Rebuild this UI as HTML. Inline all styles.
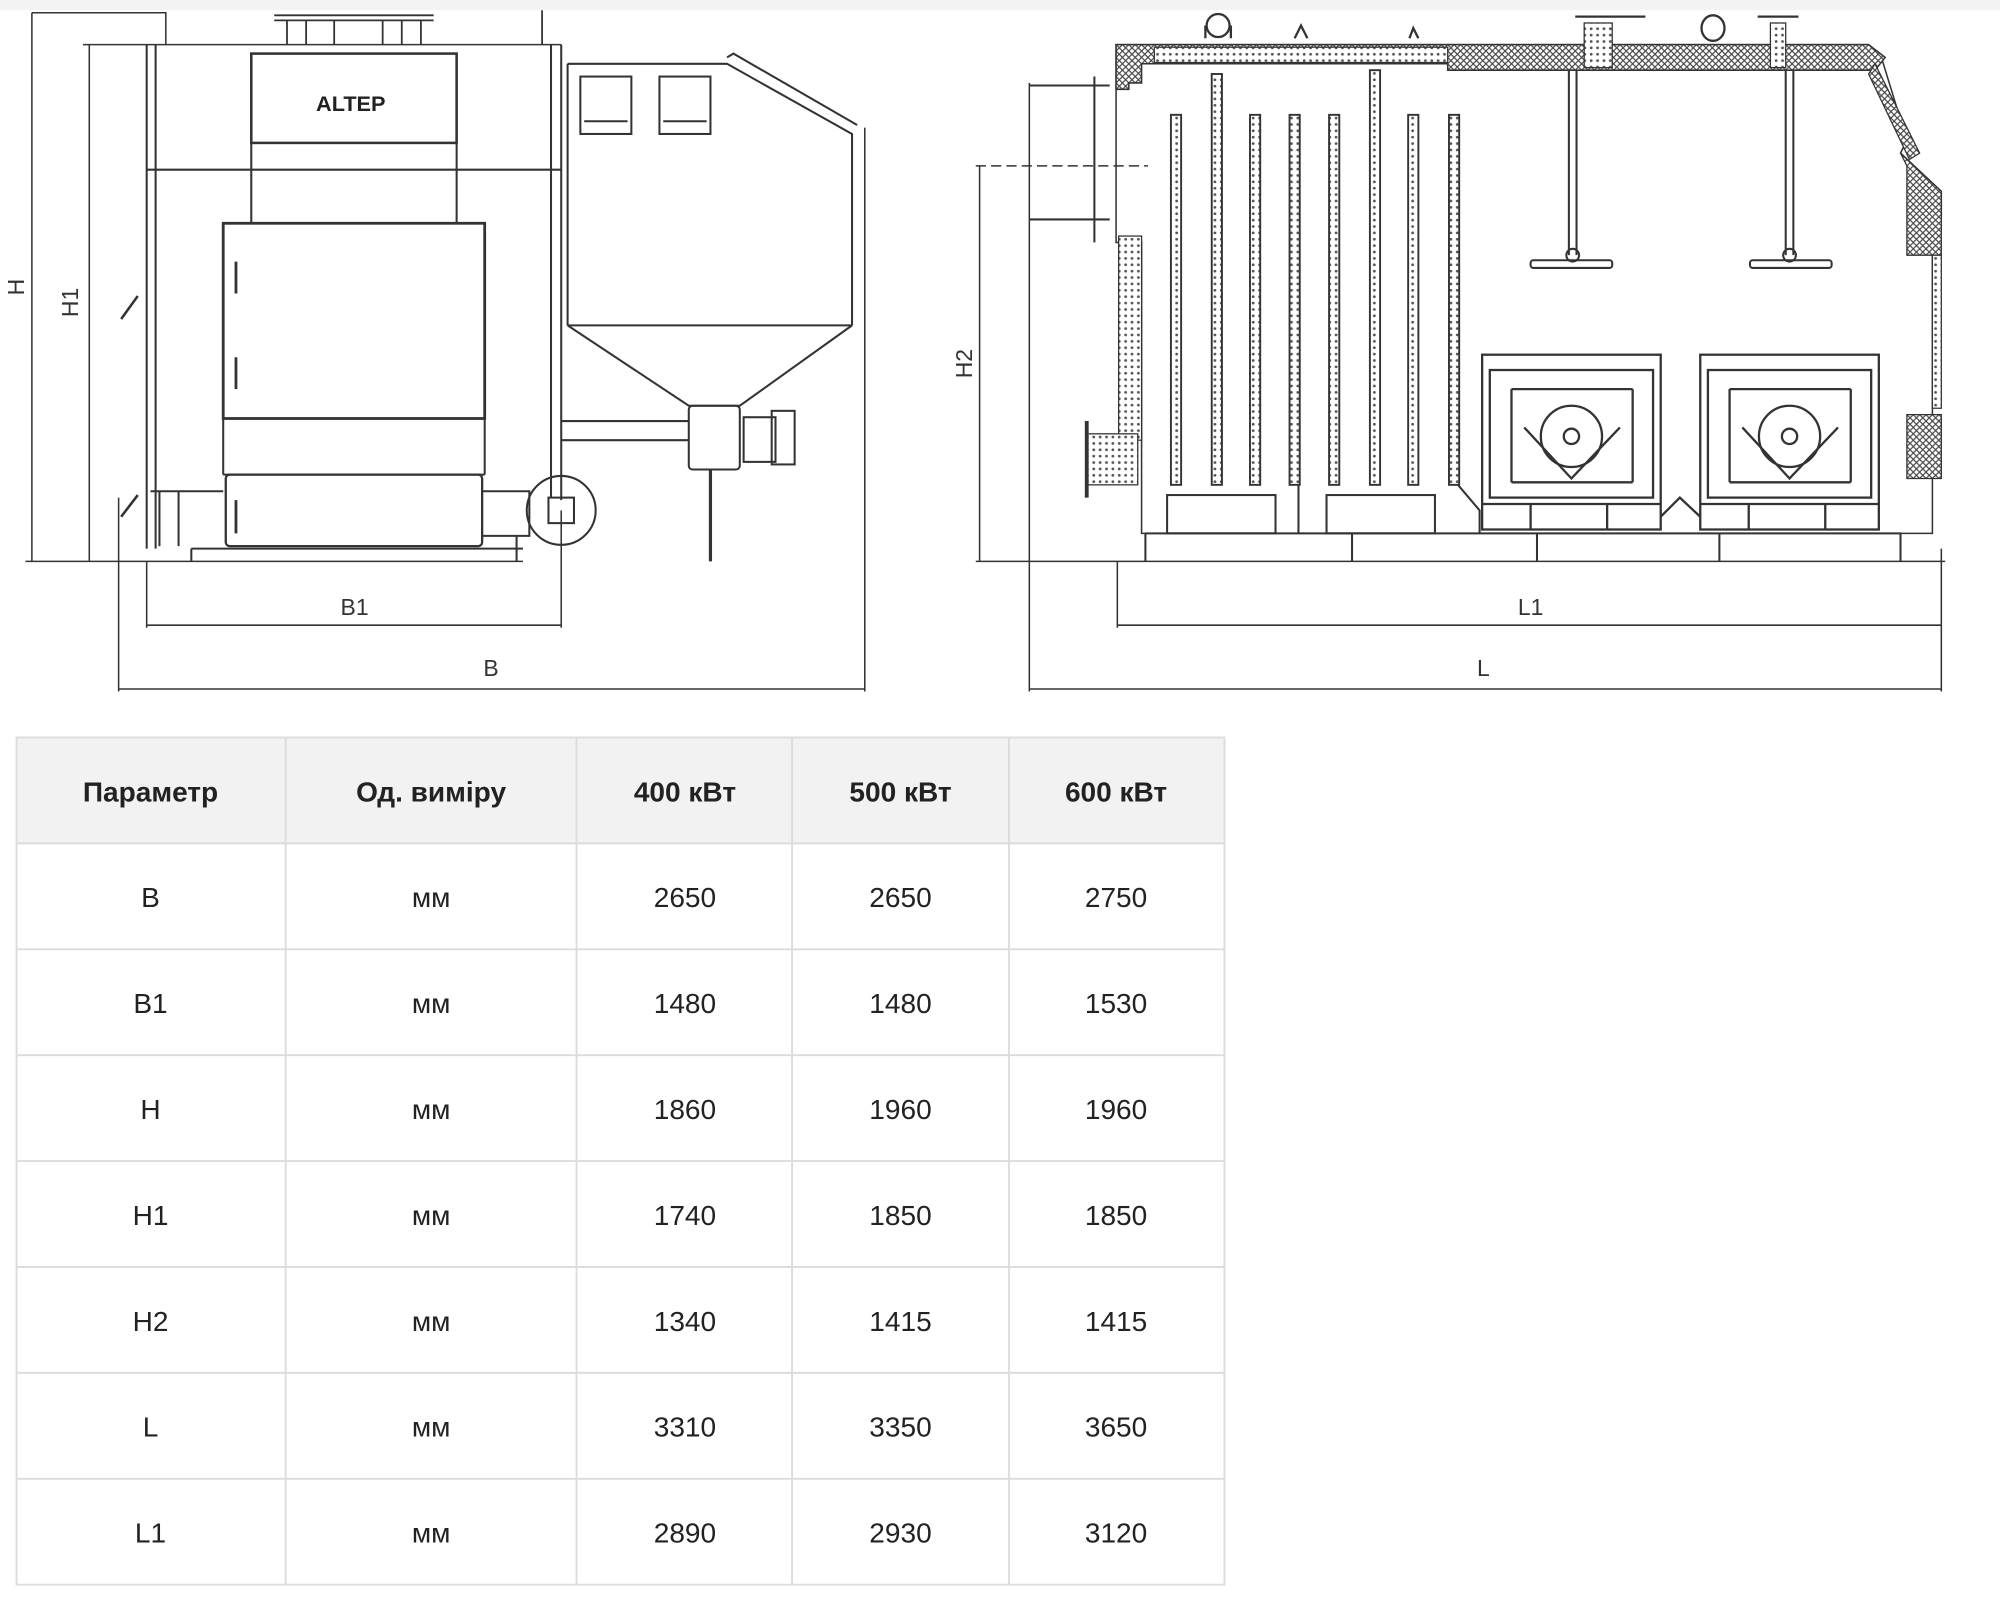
<!DOCTYPE html>
<html><head><meta charset="utf-8"><style>
html,body{margin:0;padding:0;background:#fff;}
svg{display:block;}
</style></head><body>
<svg width="2000" height="1600" viewBox="0 0 1568 1254" preserveAspectRatio="none" xmlns="http://www.w3.org/2000/svg">
<defs>
<pattern id="dots" width="5" height="5" patternUnits="userSpaceOnUse"><rect width="5" height="5" fill="#fff"/><circle cx="2.5" cy="2.5" r="1.1" fill="#555"/></pattern>
<pattern id="hatch" width="5" height="5" patternUnits="userSpaceOnUse"><rect width="5" height="5" fill="#fff"/><path d="M0 5L5 0M0 0L5 5" stroke="#444" stroke-width="0.9"/></pattern>
</defs>
<rect x="0" y="0" width="1568" height="8" fill="#f3f3f3"/>
<g fill="none" stroke="#333" stroke-width="1.6">
<path d="M25 10H130V35M25 10V440M65 35H440M70 35V440M20 440H410" stroke-width="1.2"/>
<path d="M115 440V492M440 400V492M115 490H440M93 390V542M678 100V542M93 540H678" stroke-width="1.2"/>
<path d="M115 35V430M122 35V430M432 35V390M440 35V392"/>
<path d="M115 133H440"/>
<rect x="197" y="42" width="161" height="70" stroke-width="2"/>
<path d="M197 112V175M358 112V175"/>
<rect x="175" y="175" width="205" height="153" stroke-width="2.2"/>
<path d="M175 328V372M380 328V372M175 372H380"/>
<rect x="177" y="372" width="201" height="56" rx="3" stroke-width="1.8"/>
<path d="M118 385H175M378 385H415V420H378M125 385V428M140 385V428M150 430V440M405 420V440M150 430H410"/>
<path d="M185 205V230M185 280V305M185 392V418" stroke-width="2.2"/>
<path d="M95 250L108 232M95 405L108 388" stroke-width="2"/>
<path d="M215 12H340M215 16H340M225 16V35M240 16V35M262 16V35M300 16V35M315 16V35M330 16V35M425 8V35" stroke-width="1.4"/>
<circle cx="440" cy="400" r="27"/>
<rect x="430" y="390" width="20" height="20"/>
<path d="M445 50H570L668 105V255M445 50V255M445 255H668M445 255L540 318H580L668 255M570 45L575 42L672 98"/>
<rect x="455" y="60" width="40" height="45"/><rect x="517" y="60" width="40" height="45"/>
<path d="M458 95H492M520 95H554"/>
<path d="M440 330H540M440 345H540"/>
<rect x="540" y="318" width="40" height="50" rx="3"/>
<rect x="583" y="327" width="25" height="35"/>
<rect x="605" y="322" width="18" height="42"/>
<path d="M557 368V440" stroke-width="2.5"/>
</g>
<text x="275" y="87" font-family="Liberation Sans, sans-serif" font-weight="bold" font-size="17" text-anchor="middle" fill="#222">ALTEP</text>
<g font-family="Liberation Sans, sans-serif" font-size="18" fill="#333" text-anchor="middle">
<text x="278" y="482">B1</text>
<text x="385" y="530">B</text>
<text transform="translate(19,225) rotate(-90)">H</text>
<text transform="translate(61,237) rotate(-90)">H1</text>
<text transform="translate(762,285) rotate(-90)">H2</text>
<text x="1200" y="482">L1</text>
<text x="1163" y="530">L</text>
</g>
<g fill="none" stroke="#333" stroke-width="1.6">
<path d="M768 130V440M765 440H1525M876 440V492M876 490H1522M1522 430V542M807 65V542M807 540H1522" stroke-width="1.2"/>
<path d="M765 130H900" stroke-dasharray="8 4" stroke-width="1.2"/>
<path d="M807 67H870M807 172H870M858 60V190"/>
<path d="M875 35H1465L1475 45L1495 110L1490 120L1522 150V170H1515V418H895V190H875Z" stroke-width="1.2"/>
</g>
<path d="M875 35H1465L1478 45L1470 55H1135V50H895V65H885V70H875Z" fill="url(#hatch)" stroke="#333" stroke-width="1.2"/>
<path d="M1470 50L1505 120L1497 125L1465 58Z" fill="url(#hatch)" stroke="#333"/>
<path d="M1490 120L1522 150V200H1495V130Z" fill="url(#hatch)" stroke="#333"/>
<path d="M1495 325H1522V375H1495Z" fill="url(#hatch)" stroke="#333"/>
<path d="M1515 200H1522V320H1515Z" fill="url(#dots)" stroke="#333"/>
<rect x="877" y="185" width="18" height="160" fill="url(#dots)" stroke="#333"/>
<rect x="852" y="340" width="40" height="40" fill="url(#dots)" stroke="#333"/>
<path d="M852 330V390" stroke="#333" stroke-width="3"/>
<rect x="905" y="37" width="230" height="12" fill="url(#dots)" stroke="#333"/>
<rect x="1242" y="18" width="22" height="35" fill="url(#dots)" stroke="#333"/>
<rect x="1388" y="18" width="12" height="35" fill="url(#dots)" stroke="#333"/>
<g fill="none" stroke="#333" stroke-width="1.8">
<path d="M1235 13H1290M1378 13H1410"/>
<circle cx="955" cy="20" r="9"/><path d="M945 30V20M965 30V20"/>
<ellipse cx="1343" cy="22" rx="9" ry="10"/>
<path d="M1015 30L1020 20L1025 30M1105 30L1108 22L1112 30"/>
</g>
<g fill="url(#dots)" stroke="#333" stroke-width="1.5">
<rect x="918" y="90" width="8" height="290"/>
<rect x="950" y="58" width="8" height="322"/>
<rect x="980" y="90" width="8" height="290"/>
<rect x="1011" y="90" width="8" height="290"/>
<rect x="1042" y="90" width="8" height="290"/>
<rect x="1074" y="55" width="8" height="325"/>
<rect x="1104" y="90" width="8" height="290"/>
<rect x="1136" y="90" width="8" height="290"/>
</g>
<g fill="none" stroke="#333" stroke-width="1.6">
<rect x="915" y="388" width="85" height="30"/>
<rect x="1040" y="388" width="85" height="30"/>
<path d="M1018 380V418M1143 380L1160 400V418"/>
<path d="M1230 55V200M1236 55V200M1400 55V200M1406 55V200"/>
<rect x="1200" y="204" width="64" height="6" rx="2"/>
<rect x="1372" y="204" width="64" height="6" rx="2"/>
<circle cx="1233" cy="200" r="5"/><circle cx="1403" cy="200" r="5"/>
<path d="M898 418H1490V440M898 418V440M1060 418V440M1205 418V440M1348 418V440"/>
</g>
<g fill="none" stroke="#333" stroke-width="1.8">
<rect x="1162" y="278" width="140" height="137"/>
<rect x="1168" y="290" width="128" height="100"/>
<path d="M1185 305H1280M1185 305V378M1280 305V378M1185 378H1280M1195 335L1232 375L1270 335M1162 395H1302M1200 395V415M1260 395V415"/>
<circle cx="1232" cy="342" r="24"/><circle cx="1232" cy="342" r="6"/>
<rect x="1333" y="278" width="140" height="137"/>
<rect x="1339" y="290" width="128" height="100"/>
<path d="M1356 305H1451M1356 305V378M1451 305V378M1356 378H1451M1366 335L1403 375L1441 335M1333 395H1473M1371 395V415M1431 395V415"/>
<circle cx="1403" cy="342" r="24"/><circle cx="1403" cy="342" r="6"/>
<path d="M1302 405L1317 390L1333 405"/>
</g>
<rect x="13" y="578" width="947" height="83" fill="#f2f2f2"/>
<g stroke="#dcdcdc" stroke-width="1.5" fill="none">
<rect x="13" y="578" width="947" height="664"/>
<path d="M13 661H960M13 744H960M13 827H960M13 910H960M13 993H960M13 1076H960M13 1159H960"/>
<path d="M224 578V1242M452 578V1242M621 578V1242M791 578V1242"/>
</g>
<g font-family="Liberation Sans, sans-serif" font-size="22" fill="#222" text-anchor="middle">
<g font-weight="bold"><text x="118" y="628">Параметр</text><text x="338" y="628">Од. виміру</text><text x="537" y="628">400 кВт</text><text x="706" y="628">500 кВт</text><text x="875" y="628">600 кВт</text></g>
<text x="118" y="711">B</text><text x="338" y="711">мм</text><text x="537" y="711">2650</text><text x="706" y="711">2650</text><text x="875" y="711">2750</text>
<text x="118" y="794">B1</text><text x="338" y="794">мм</text><text x="537" y="794">1480</text><text x="706" y="794">1480</text><text x="875" y="794">1530</text>
<text x="118" y="877">H</text><text x="338" y="877">мм</text><text x="537" y="877">1860</text><text x="706" y="877">1960</text><text x="875" y="877">1960</text>
<text x="118" y="960">H1</text><text x="338" y="960">мм</text><text x="537" y="960">1740</text><text x="706" y="960">1850</text><text x="875" y="960">1850</text>
<text x="118" y="1043">H2</text><text x="338" y="1043">мм</text><text x="537" y="1043">1340</text><text x="706" y="1043">1415</text><text x="875" y="1043">1415</text>
<text x="118" y="1126">L</text><text x="338" y="1126">мм</text><text x="537" y="1126">3310</text><text x="706" y="1126">3350</text><text x="875" y="1126">3650</text>
<text x="118" y="1209">L1</text><text x="338" y="1209">мм</text><text x="537" y="1209">2890</text><text x="706" y="1209">2930</text><text x="875" y="1209">3120</text>
</g>
</svg>
</body></html>
